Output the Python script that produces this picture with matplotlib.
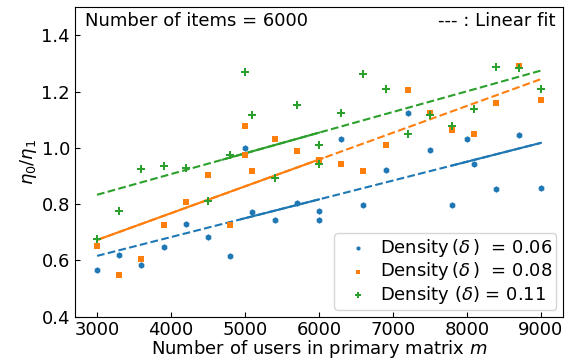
import numpy as np
import matplotlib
matplotlib.use("Agg")
import matplotlib.pyplot as plt

# users in primary matrix (x) and eta0/eta1 (y) per density
x_006 = [3000, 3300, 3600, 3900, 4200, 4500, 4800, 5000, 5100, 5400, 5700, 6000, 6000,
         6300, 6600, 6900, 7200, 7500, 7800, 8000, 8100, 8400, 8700, 9000]
y_006 = [0.565, 0.618, 0.583, 0.649, 0.729, 0.682, 0.615, 1.000, 0.771, 0.742, 0.805, 0.777, 0.742,
         1.030, 0.796, 0.921, 1.125, 0.993, 0.798, 1.033, 0.942, 0.852, 1.045, 0.856]

x_008 = [3000, 3300, 3600, 3900, 4200, 4500, 4800, 5000, 5000, 5100, 5400, 5700, 6000,
         6300, 6600, 6900, 7200, 7500, 7800, 8100, 8400, 8700, 9000]
y_008 = [0.652, 0.549, 0.605, 0.725, 0.808, 0.905, 0.727, 1.079, 0.974, 0.918, 1.031, 0.989, 0.956,
         0.942, 0.917, 1.010, 1.207, 1.125, 1.064, 1.050, 1.158, 1.290, 1.170]

x_011 = [3000, 3300, 3600, 3900, 4200, 4500, 4800, 5000, 5100, 5400, 5700, 6000, 6000,
         6300, 6600, 6900, 7200, 7500, 7800, 8100, 8400, 8700, 9000]
y_011 = [0.675, 0.774, 0.925, 0.935, 0.929, 0.810, 0.975, 1.271, 1.115, 0.892, 1.154, 1.010, 0.944,
         1.125, 1.261, 1.210, 1.049, 1.117, 1.076, 1.138, 1.288, 1.283, 1.210]

labels = [r"Density$\,(\delta\,)$  = 0.06",
          r"Density$\,(\delta\,)$  = 0.08",
          r"Density $(\delta)$ = 0.11"]

series = [(x_006, y_006, "#1f77b4", "h", 22, (4950, 6000), (7800, 9000)),
          (x_008, y_008, "#ff7f0e", "s", 18, (3000, 6050), None),
          (x_011, y_011, "#2ca02c", "P", 40, (4700, 6000), None)]

fs = 13

fig = plt.figure(figsize=(5.67, 3.59), dpi=100)
ax = fig.add_axes([0.132, 0.118, 0.861, 0.862])

for (xs, ys, col, mk, sz, seg1, seg2), lab in zip(series, labels):
    xs = np.array(xs, dtype=float)
    ys = np.array(ys)
    ax.scatter(xs, ys, color=col, marker=mk, s=sz, linewidths=0, label=lab, zorder=3)
    k, b = np.polyfit(xs, ys, 1)
    xf = np.linspace(3000, 9000, 200)
    ax.plot(xf, k * xf + b, color=col, ls="--", lw=1.5)
    for seg in (seg1, seg2):
        if seg is not None:
            xx = np.array(seg, dtype=float)
            ax.plot(xx, k * xx + b, color=col, ls="-", lw=1.5)

ax.set_xlim(2700, 9300)
ax.set_ylim(0.4, 1.5)
ax.set_xticks([3000, 4000, 5000, 6000, 7000, 8000, 9000])
ax.set_yticks([0.4, 0.6, 0.8, 1.0, 1.2, 1.4])
ax.tick_params(direction="in", labelsize=fs)
ax.set_xlabel(r"Number of users in primary matrix $m$", fontsize=fs, labelpad=-1)
ax.set_ylabel(r"$\eta_0/\eta_1$", fontsize=fs, labelpad=2)

ax.text(0.02, 0.985, "Number of items = 6000", transform=ax.transAxes,
        ha="left", va="top", fontsize=fs)
ax.text(0.985, 0.985, "--- : Linear fit", transform=ax.transAxes,
        ha="right", va="top", fontsize=fs)

ax.legend(loc="lower right", fontsize=fs, handletextpad=0.15, borderpad=0.2,
          labelspacing=0.1, markerscale=0.7, handlelength=2.2,
          borderaxespad=0, bbox_to_anchor=(0.986, 0.022))

fig.savefig("out.png", dpi=100)
